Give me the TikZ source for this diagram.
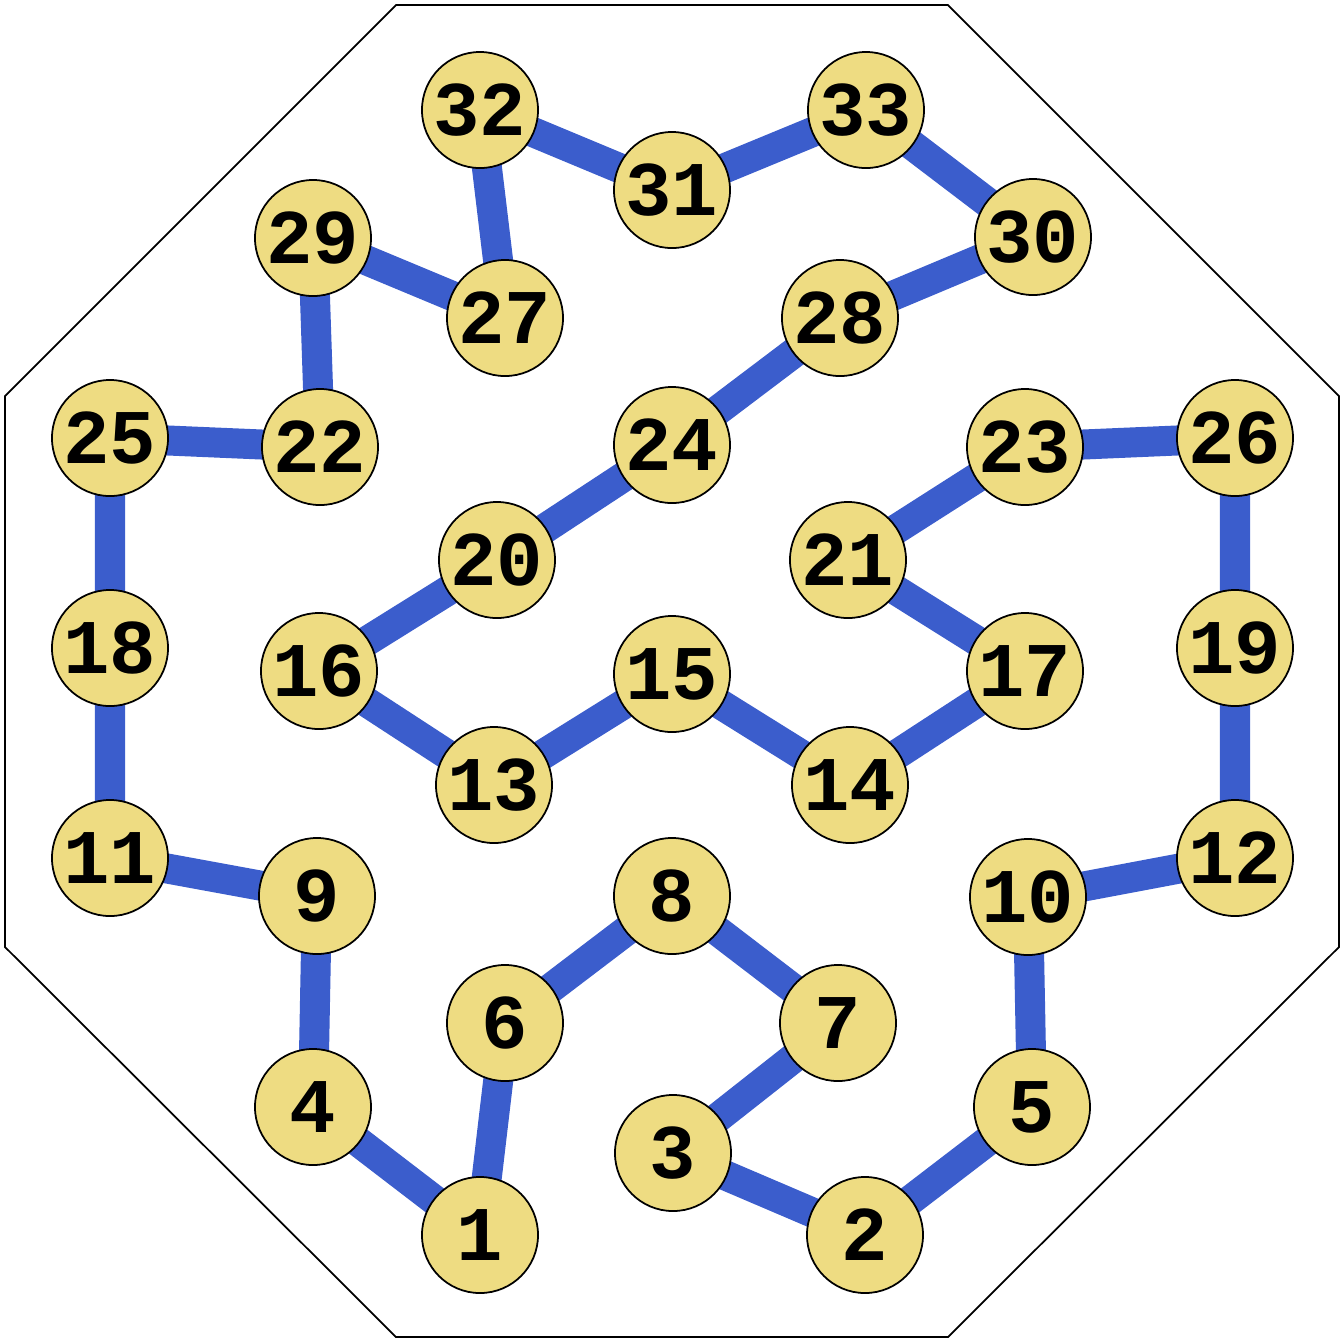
\documentclass[tikz,border=0pt]{standalone}
\usepackage{fontspec}
\setmonofont{Liberation Mono}
\usetikzlibrary{backgrounds}
\definecolor{tourblue}{RGB}{59,93,204}
\definecolor{cellgold}{RGB}{238,220,130}

\begin{document}
\begin{tikzpicture}[
    x=0.01cm, y=-0.01cm,
    cell/.style={circle, draw, line width=0.5pt, fill=cellgold, minimum size=1.16cm, inner sep=0pt, font=\ttfamily\bfseries\fontsize{22}{22}\selectfont},
    tour/.style={line width=0.3cm, tourblue},
  ]
    \useasboundingbox (0,0) rectangle (1344,1338);

    % Board outline
    \draw[line width=0.5pt] (396,5) -- (948,5) -- (1339,396) -- (1339,947) -- (948,1337) -- (396,1337) -- (5,947) -- (5,396) -- cycle;

    % Cells
    \node[cell] (n1) at (480,1235) {1};
    \node[cell] (n2) at (865,1235) {2};
    \node[cell] (n3) at (673,1153) {3};
    \node[cell] (n4) at (313,1107) {4};
    \node[cell] (n5) at (1032,1107) {5};
    \node[cell] (n6) at (505,1023) {6};
    \node[cell] (n7) at (838,1023) {7};
    \node[cell] (n8) at (672,896) {8};
    \node[cell] (n9) at (317,896) {9};
    \node[cell] (n10) at (1028,897) {10};
    \node[cell] (n11) at (110,858) {11};
    \node[cell] (n12) at (1235,858) {12};
    \node[cell] (n13) at (494,785) {13};
    \node[cell] (n14) at (850,785) {14};
    \node[cell] (n15) at (672,674) {15};
    \node[cell] (n16) at (319,671) {16};
    \node[cell] (n17) at (1025,671) {17};
    \node[cell] (n18) at (110,648) {18};
    \node[cell] (n19) at (1235,648) {19};
    \node[cell] (n20) at (497,560) {20};
    \node[cell] (n21) at (848,560) {21};
    \node[cell] (n22) at (320,447) {22};
    \node[cell] (n23) at (1025,447) {23};
    \node[cell] (n24) at (672,445) {24};
    \node[cell] (n25) at (110,438) {25};
    \node[cell] (n26) at (1235,438) {26};
    \node[cell] (n27) at (505,318) {27};
    \node[cell] (n28) at (840,318) {28};
    \node[cell] (n29) at (313,238) {29};
    \node[cell] (n30) at (1033,237) {30};
    \node[cell] (n31) at (672,190) {31};
    \node[cell] (n32) at (480,110) {32};
    \node[cell] (n33) at (866,110) {33};

    % Tour
    \begin{scope}[on background layer]
      \draw[tour] (n1.center) -- (n6.center) -- (n8.center) -- (n7.center) -- (n3.center) -- (n2.center) -- (n5.center) -- (n10.center) -- (n12.center) -- (n19.center) -- (n26.center) -- (n23.center) -- (n21.center) -- (n17.center) -- (n14.center) -- (n15.center) -- (n13.center);
      \draw[tour] (n13.center) -- (n16.center) -- (n20.center) -- (n24.center) -- (n28.center) -- (n30.center) -- (n33.center) -- (n31.center) -- (n32.center) -- (n27.center) -- (n29.center) -- (n22.center) -- (n25.center) -- (n18.center) -- (n11.center) -- (n9.center) -- (n4.center) -- (n1.center);
    \end{scope}

  \end{tikzpicture}
\end{document}
